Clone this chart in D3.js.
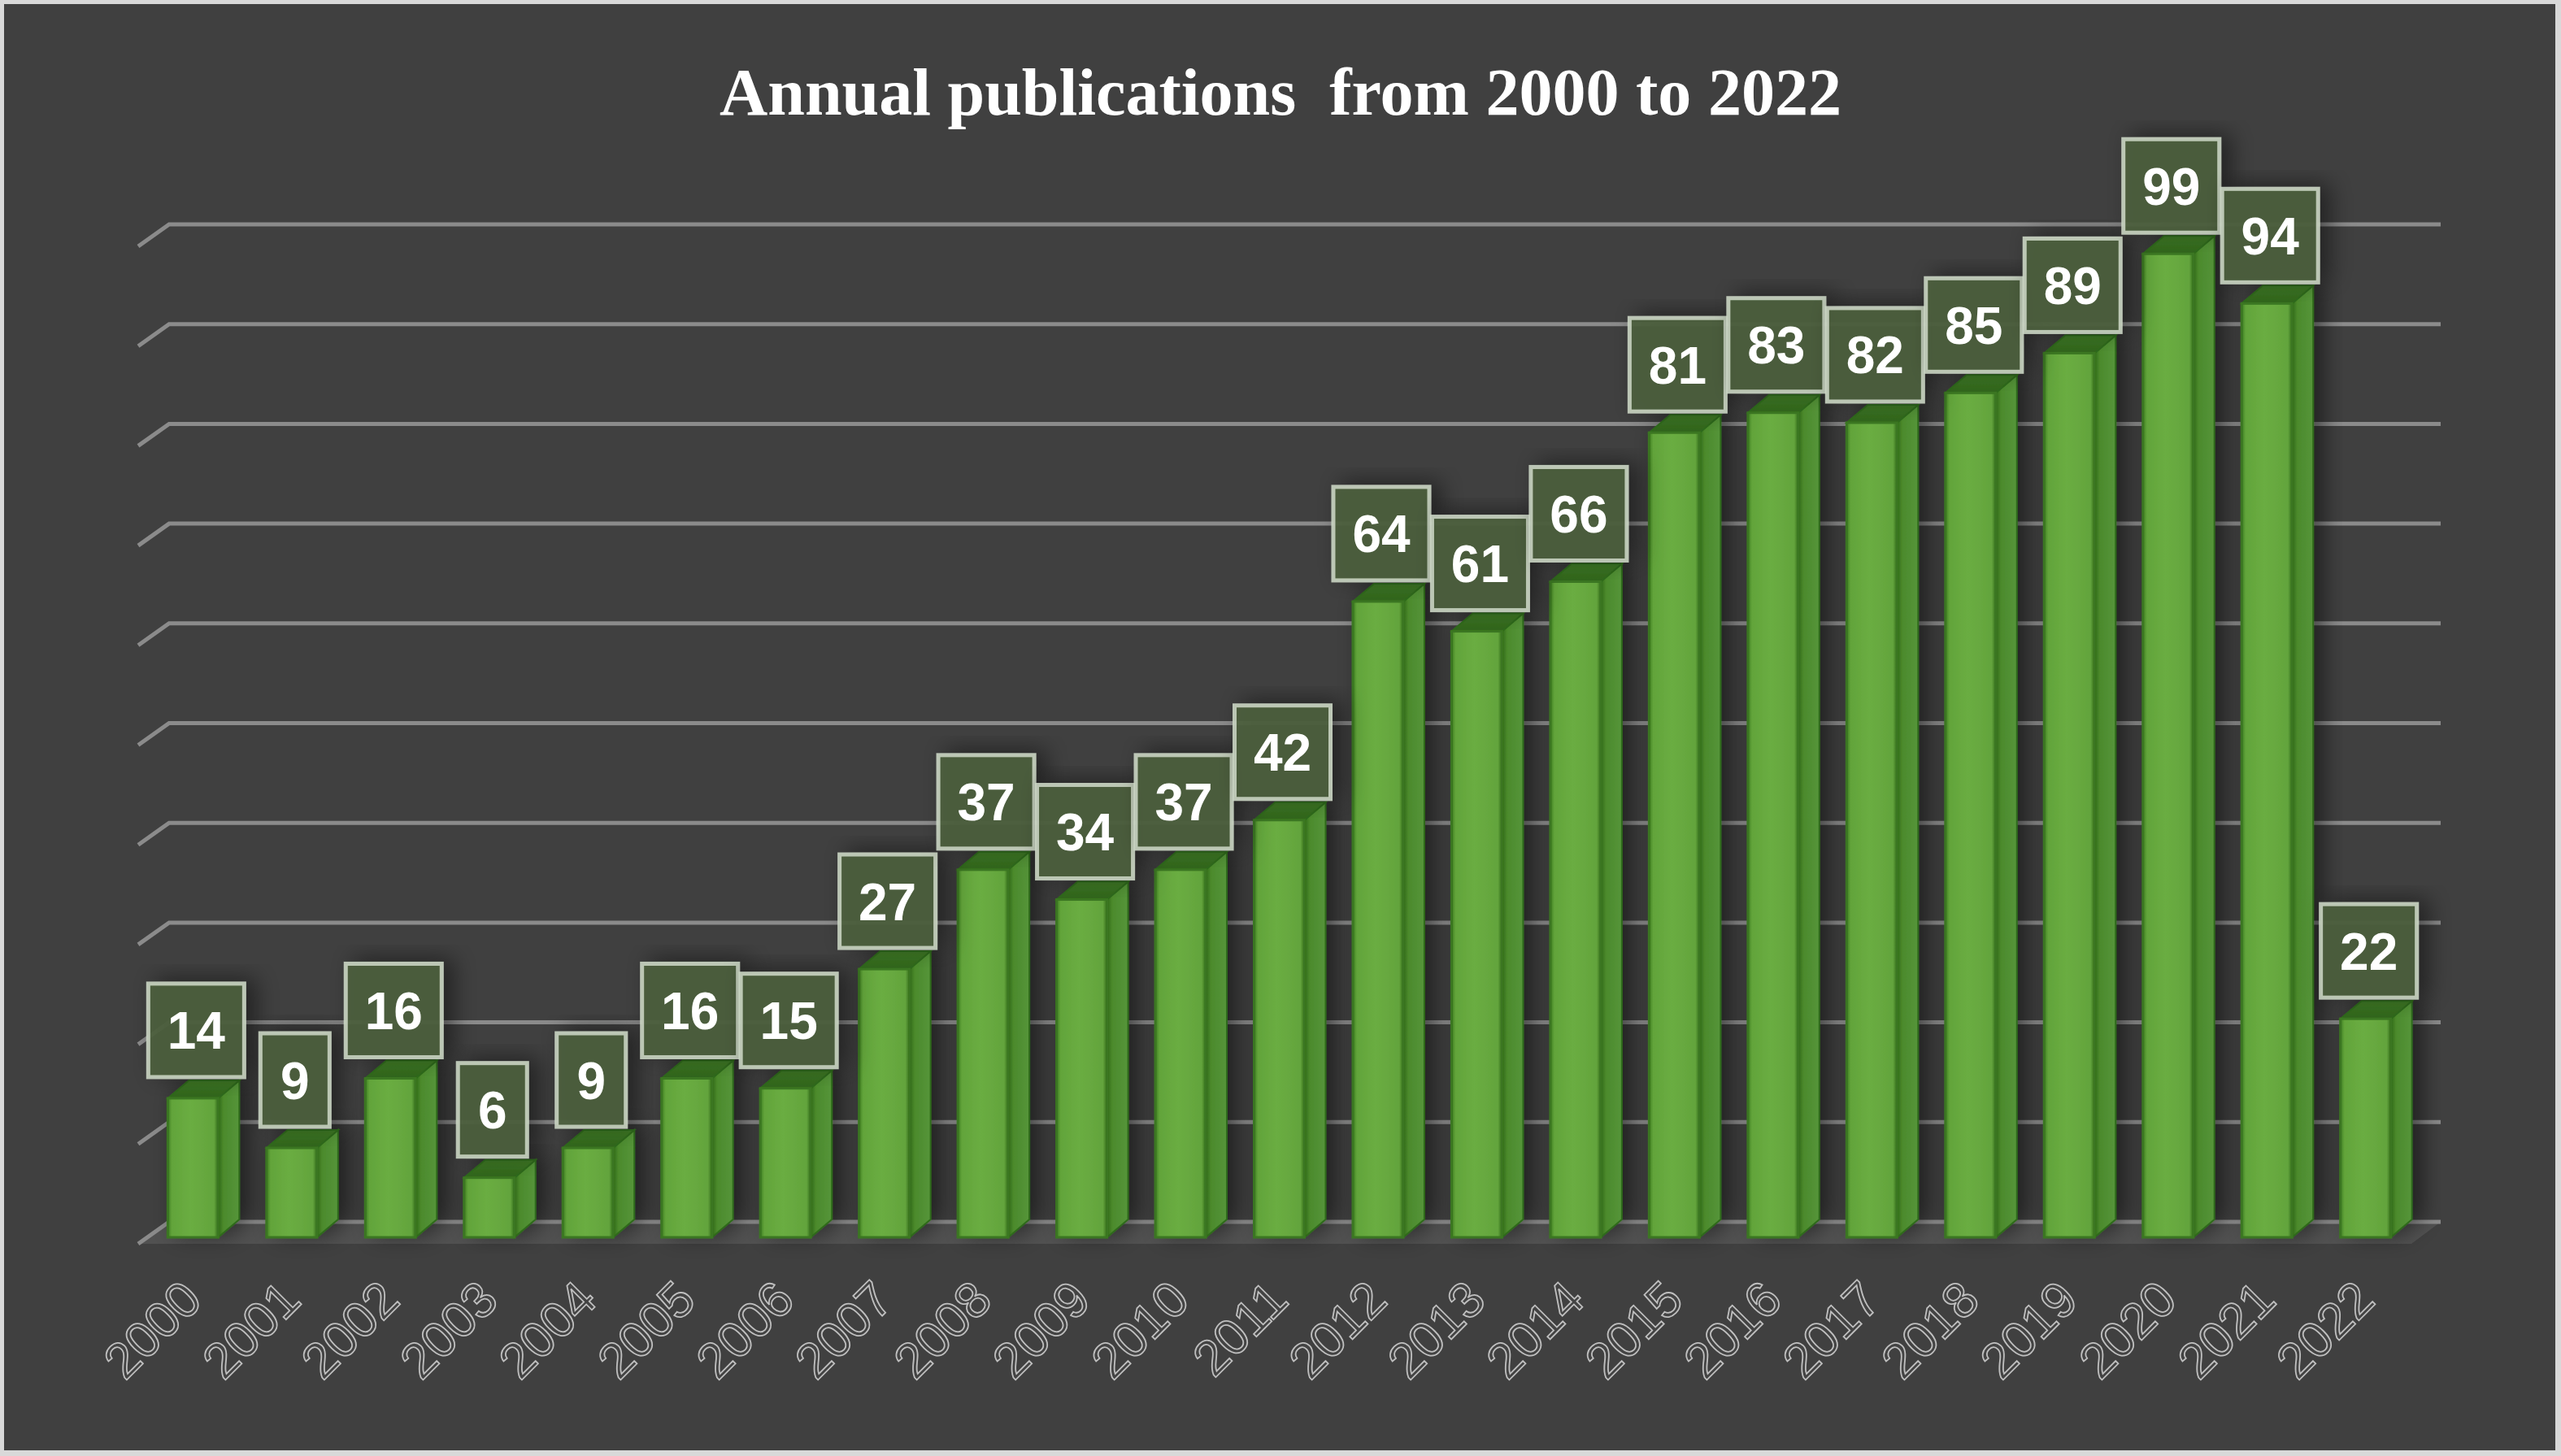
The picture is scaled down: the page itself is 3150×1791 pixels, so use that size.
<!DOCTYPE html>
<html>
<head>
<meta charset="utf-8">
<script src="https://cdn.jsdelivr.net/npm/d3@7"></script>
<style>
  body { margin: 0; background: #ffffff; }
  svg { display: block; }
</style>
</head>
<body>
<script>
// 3D-style column chart of yearly publication counts
(function(){

// data
var years = ["2000","2001","2002","2003","2004","2005","2006","2007","2008","2009","2010","2011",
             "2012","2013","2014","2015","2016","2017","2018","2019","2020","2021","2022"];
var pubs = [14, 9, 16, 6, 9, 16, 15, 27, 37, 34, 37, 42, 64, 61, 66, 81, 83, 82, 85, 89, 99, 94, 22];
var gridTicks = [0, 10, 20, 30, 40, 50, 60, 70, 80, 90, 100];
var titleText = "Annual publications\u00a0 from 2000 to 2022";

// frame
var width = 3150,
    height = 1791;

// depth offset of the fake 3d
var depthX = 26,
    depthY = -22;

var svg = d3.select("body")
    .append("svg")
    .attr("width", width)
    .attr("height", height);

var defs = svg.append("defs");

// soft shadow for bars and label boxes
var shadow = defs.append("filter")
    .attr("id", "shadow")
    .attr("x", "-40%").attr("y", "-20%")
    .attr("width", "180%").attr("height", "140%");
shadow.append("feDropShadow")
    .attr("dx", 12).attr("dy", -4)
    .attr("stdDeviation", 14)
    .attr("flood-color", "#000")
    .attr("flood-opacity", 0.5);

// front face gradient
var frontGrad = defs.append("linearGradient")
    .attr("id", "frontGrad")
    .attr("x1", "0").attr("x2", "1").attr("y1", "0").attr("y2", "0");
[["0%", "#3f7f22"], ["8%", "#62a43a"], ["45%", "#6aad42"], ["92%", "#63a43c"], ["100%", "#356f1c"]]
  .forEach(function(s){
    frontGrad.append("stop").attr("offset", s[0]).attr("stop-color", s[1]);
  });

// side face gradient
var sideGrad = defs.append("linearGradient")
    .attr("id", "sideGrad")
    .attr("x1", "0").attr("x2", "1").attr("y1", "0").attr("y2", "0");
[["0%", "#2f6918"], ["25%", "#4c8a2c"], ["100%", "#55953a"]]
  .forEach(function(s){
    sideGrad.append("stop").attr("offset", s[0]).attr("stop-color", s[1]);
  });

// top face gradient
var topGrad = defs.append("linearGradient")
    .attr("id", "topGrad")
    .attr("x1", "0").attr("x2", "0").attr("y1", "0").attr("y2", "1");
[["0%", "#3f7a26"], ["100%", "#2f631a"]]
  .forEach(function(s){
    topGrad.append("stop").attr("offset", s[0]).attr("stop-color", s[1]);
  });

// background + thin light frame
svg.append("rect")
    .attr("x", 0).attr("y", 0)
    .attr("width", width).attr("height", height)
    .attr("fill", "#d9d9d9");
svg.append("rect")
    .attr("x", 5).attr("y", 5)
    .attr("width", width - 12).attr("height", height - 12)
    .attr("fill", "#404040");

// scales
var x = d3.scaleBand()
    .domain(years)
    .range([176, 2971])
    .paddingInner(0.49)
    .paddingOuter(0.25);

var yFront = d3.scaleLinear()
    .domain([0, 100])
    .range([1522, 300]);

var yWall = d3.scaleLinear()
    .domain([0, 100])
    .range([1503, 276]);

var wallLeft = 208,
    wallRight = 3002;

// floor
var floorY = yWall(0);
svg.append("path")
    .attr("d", "M" + (wallLeft - 38) + "," + (floorY + 27) +
               "L" + wallLeft + "," + floorY +
               "L" + wallRight + "," + floorY +
               "L" + (wallRight - 36) + "," + (floorY + 27) + "Z")
    .attr("fill", "#515151");

// gridlines on back wall with the small diagonal at the left
svg.append("g")
    .selectAll("path")
    .data(gridTicks)
    .enter()
    .append("path")
    .attr("d", function(d){
      var y = yWall(d);
      return "M" + (wallLeft - 38) + "," + (y + 27) + "L" + wallLeft + "," + y + "L" + wallRight + "," + y;
    })
    .attr("fill", "none")
    .attr("stroke", "#8b8b8b")
    .attr("stroke-width", 5);

// bars
var bw = x.bandwidth();
var bars = svg.append("g")
    .selectAll("g")
    .data(pubs)
    .enter()
    .append("g")
    .attr("filter", "url(#shadow)");

// side face
bars.append("path")
    .attr("d", function(d, i){
      var x1 = x(years[i]) + bw, top = yFront(d), base = yFront(0);
      return "M" + x1 + "," + top +
             "L" + (x1 + depthX) + "," + (top + depthY) +
             "L" + (x1 + depthX) + "," + (base + depthY) +
             "L" + x1 + "," + base + "Z";
    })
    .attr("fill", "url(#sideGrad)")
    .attr("stroke", "#2f6a1a")
    .attr("stroke-width", 2);

// top face
bars.append("path")
    .attr("d", function(d, i){
      var x0 = x(years[i]), top = yFront(d);
      return "M" + x0 + "," + top +
             "L" + (x0 + depthX) + "," + (top + depthY) +
             "L" + (x0 + bw + depthX) + "," + (top + depthY) +
             "L" + (x0 + bw) + "," + top + "Z";
    })
    .attr("fill", "url(#topGrad)")
    .attr("stroke", "#2f6a1a")
    .attr("stroke-width", 2);

// front face
bars.append("rect")
    .attr("x", function(d, i){ return x(years[i]); })
    .attr("y", function(d){ return yFront(d); })
    .attr("width", bw)
    .attr("height", function(d){ return yFront(0) - yFront(d); })
    .attr("fill", "url(#frontGrad)")
    .attr("stroke", "#3a7620")
    .attr("stroke-width", 3);

// value label boxes
var labelSize = 64,
    boxH = 115;
function boxW(d){ return String(d).length * 33 + 52; }

var labels = svg.append("g")
    .selectAll("g")
    .data(pubs)
    .enter()
    .append("g")
    .attr("transform", function(d, i){
      return "translate(" + (x(years[i]) + bw / 2 + 4) + "," + (yFront(d) - 26 - boxH / 2) + ")";
    });

labels.append("rect")
    .attr("x", function(d){ return -boxW(d) / 2; })
    .attr("y", -boxH / 2)
    .attr("width", boxW)
    .attr("height", boxH)
    .attr("fill", "#4b5f3c")
    .attr("fill-opacity", 0.93)
    .attr("stroke", "#c9d4c2")
    .attr("stroke-opacity", 0.9)
    .attr("stroke-width", 5)
    .attr("filter", "url(#shadow)");

labels.append("text")
    .attr("text-anchor", "middle")
    .attr("y", 23)
    .attr("font-family", "'Liberation Sans', Arial, sans-serif")
    .attr("font-weight", "bold")
    .attr("font-size", labelSize)
    .attr("fill", "#ffffff")
    .text(function(d){ return d; });

// year labels, rotated, thin outlined look
svg.append("g")
    .selectAll("text")
    .data(years)
    .enter()
    .append("text")
    .attr("transform", function(d){
      return "translate(" + (x(d) + bw / 2 + 14) + ",1602) rotate(-45)";
    })
    .attr("text-anchor", "end")
    .attr("font-family", "'Liberation Sans', Arial, sans-serif")
    .attr("font-size", 62)
    .attr("fill", "#434343")
    .attr("stroke", "#bfbfbf")
    .attr("stroke-width", 1.8)
    .text(function(d){ return d; });

// title
svg.append("text")
    .attr("x", width / 2)
    .attr("y", 141)
    .attr("text-anchor", "middle")
    .attr("font-family", "'Liberation Serif', 'Times New Roman', serif")
    .attr("font-weight", "bold")
    .attr("font-size", 82)
    .attr("textLength", 1380)
    .attr("lengthAdjust", "spacingAndGlyphs")
    .attr("fill", "#ffffff")
    .text(titleText);

})();
</script>
</body>
</html>
